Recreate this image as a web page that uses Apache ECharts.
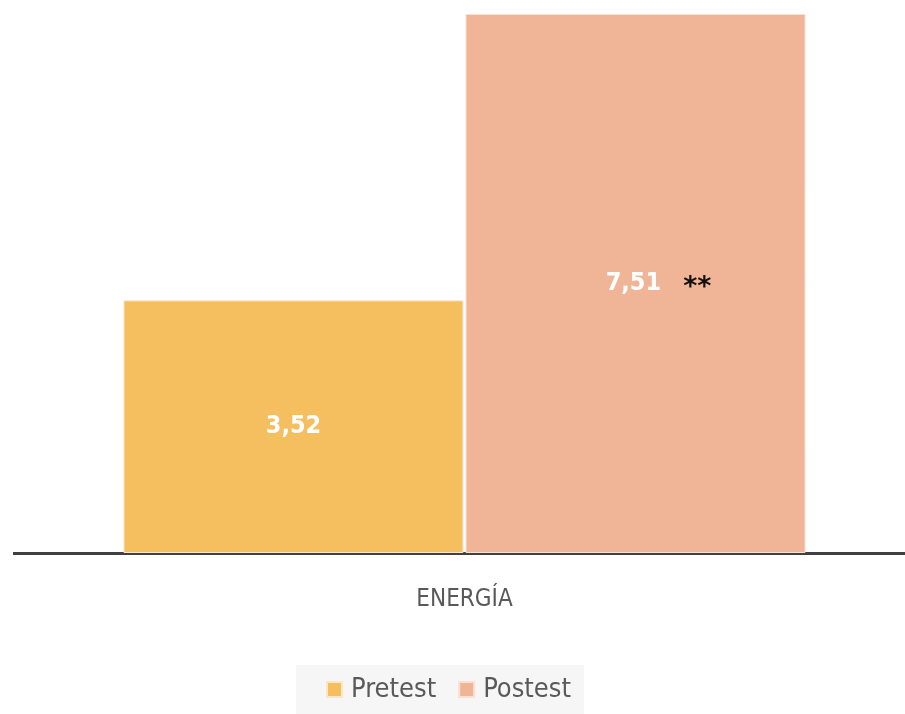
<!DOCTYPE html>
<html>
<head>
<meta charset="utf-8">
<script src="https://cdn.jsdelivr.net/npm/echarts@6/dist/echarts.min.js"></script>
<style>
  html, body { margin: 0; padding: 0; background: #fff; }
  #chart { width: 905px; height: 714px; }
</style>
</head>
<body>
<div id="chart"></div>
<script>
  var categories = ['ENERGÍA'];
  var pretest = [3.52];
  var postest = [7.51];
  var marks = ['', '**'];

  var font = '"Liberation Sans Narrow", "DejaVu Sans Condensed", sans-serif';
  var fmt = function (v) { return v.toFixed(2).replace('.', ','); };

  var chart = echarts.init(document.getElementById('chart'));
  chart.setOption({
    animation: false,
    backgroundColor: '#fff',
    grid: { left: 24, right: 0, top: 14, bottom: 161 },
    legend: {
      bottom: 0,
      left: 296,
      backgroundColor: '#f6f6f6',
      padding: [11, 13, 11, 30],
      itemWidth: 15,
      itemHeight: 15,
      itemGap: 22,
      icon: 'rect',
      textStyle: { color: '#595959', fontSize: 27, fontFamily: font, padding: [0, 0, 0, 4] },
      data: ['Pretest', 'Postest']
    },
    xAxis: {
      type: 'category',
      data: categories,
      axisLine: { lineStyle: { color: '#404040', width: 3 } },
      axisTick: { show: false },
      axisLabel: { color: '#595959', fontSize: 24, fontFamily: font, margin: 35 }
    },
    yAxis: {
      type: 'value',
      min: 0,
      max: 7.51,
      show: false,
      splitLine: { show: false }
    },
    series: [
      {
        name: 'Pretest',
        type: 'bar',
        data: pretest,
        barWidth: 340,
        barGap: '0.6%',
        itemStyle: { color: '#f5be5f', borderColor: '#fbe7c6', borderWidth: 1 },
        label: {
          show: true,
          position: 'inside',
          formatter: function (p) { return fmt(p.value); },
          color: '#fff',
          fontSize: 25,
          fontWeight: 'bold',
          fontFamily: font
        }
      },
      {
        name: 'Postest',
        type: 'bar',
        data: postest,
        barWidth: 340,
        itemStyle: { color: '#f0b596', borderColor: '#f9e0d2', borderWidth: 1 },
        label: {
          show: true,
          position: 'inside',
          offset: [23, 0],
          formatter: function (p) { return '{v|' + fmt(p.value) + '}{s|' + marks[1] + '}'; },
          rich: {
            v: { color: '#fff', fontSize: 25, fontWeight: 'bold', fontFamily: font },
            s: { color: '#111', fontSize: 27, fontWeight: 'bold', fontFamily: 'DejaVu Sans', padding: [8, 0, 0, 22] }
          }
        }
      }
    ]
  });

  // the axis line in the original starts a little left of the plot area
  var y0 = chart.convertToPixel({ yAxisIndex: 0 }, 0);
  var yl = Math.floor(y0) + 0.5;
  chart.setOption({
    graphic: [{
      type: 'line',
      shape: { x1: 13, y1: yl, x2: 25, y2: yl },
      style: { stroke: '#404040', lineWidth: 3 }
    }]
  });
</script>
</body>
</html>
